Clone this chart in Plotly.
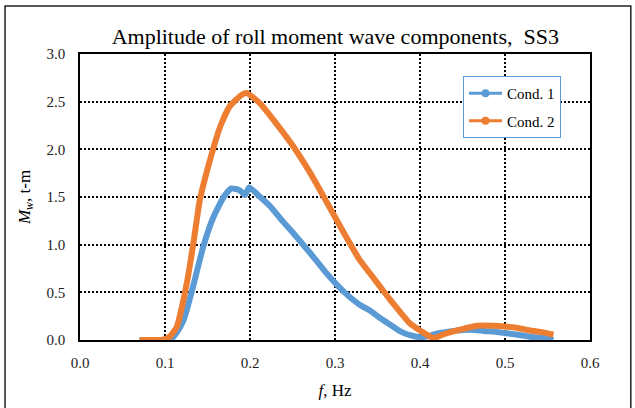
import plotly.graph_objects as go

# Cond. 1 (blue)
f1 = [0.070, 0.100, 0.106, 0.114, 0.122, 0.133, 0.145, 0.157, 0.169, 0.178, 0.188, 0.194, 0.199,
      0.212, 0.224, 0.237, 0.251, 0.271, 0.290, 0.310, 0.329, 0.341, 0.353, 0.365, 0.377, 0.388,
      0.400, 0.410, 0.420, 0.435, 0.451, 0.465, 0.475, 0.490, 0.502, 0.515, 0.529, 0.545, 0.557]
m1 = [0.00, 0.00, 0.00, 0.08, 0.21, 0.56, 0.98, 1.29, 1.50, 1.59, 1.57, 1.52, 1.60,
      1.50, 1.40, 1.26, 1.12, 0.91, 0.70, 0.51, 0.37, 0.31, 0.23, 0.16, 0.09, 0.05,
      0.03, 0.04, 0.07, 0.09, 0.105, 0.105, 0.095, 0.085, 0.07, 0.055, 0.035, 0.02, 0.00]

# Cond. 2 (orange)
f2 = [0.070, 0.095, 0.100, 0.106, 0.114, 0.120, 0.127, 0.134, 0.141, 0.153, 0.165, 0.176, 0.190, 0.196,
      0.212, 0.231, 0.251, 0.271, 0.290, 0.310, 0.329, 0.341, 0.353, 0.365, 0.377, 0.388,
      0.400, 0.416, 0.428, 0.439, 0.452, 0.467, 0.485, 0.502, 0.515, 0.529, 0.545, 0.557]
m2 = [0.00, 0.00, 0.01, 0.04, 0.14, 0.35, 0.66, 1.05, 1.47, 1.89, 2.24, 2.45, 2.57, 2.59,
      2.48, 2.27, 2.03, 1.75, 1.45, 1.13, 0.84, 0.70, 0.56, 0.42, 0.29, 0.175,
      0.10, 0.02, 0.06, 0.09, 0.12, 0.15, 0.15, 0.14, 0.125, 0.10, 0.08, 0.055]

series_names = ["Cond. 1", "Cond. 2"]
colors = ["#5B9BD5", "#ED7D31"]

x_ticks = [0.0, 0.1, 0.2, 0.3, 0.4, 0.5, 0.6]
y_ticks = [0.0, 0.5, 1.0, 1.5, 2.0, 2.5, 3.0]

FONT = "Liberation Serif"

fig = go.Figure()
for fx, my, name, col in zip([f1, f2], [m1, m2], series_names, colors):
    fig.add_trace(go.Scatter(
        x=fx, y=my, name=name, mode="lines", showlegend=False,
        line=dict(color=col, width=6, shape="spline", smoothing=0.5),
    ))
# legend entries (line with marker, as in the reference)
for name, col in zip(series_names, colors):
    fig.add_trace(go.Scatter(
        x=[None], y=[None], name=name, mode="lines+markers", legendgroup=name,
        line=dict(color=col, width=3), marker=dict(color=col, size=8),
    ))

fig.update_layout(
    width=635, height=408,
    margin=dict(l=80, r=45, t=54, b=68),
    paper_bgcolor="white", plot_bgcolor="white",
    font=dict(family=FONT, color="#222222", size=13),
    title=dict(text="Amplitude of roll moment wave components,  SS3",
               x=0.528, xanchor="center", y=0.912, yanchor="middle",
               font=dict(family=FONT, size=22, color="black")),
    showlegend=True,
    legend=dict(x=0.751, xanchor="left", y=0.923, yanchor="top",
                bordercolor="#5B9BD5", borderwidth=1, bgcolor="white",
                font=dict(family=FONT, size=15, color="black"),
                itemwidth=33, tracegroupgap=5),
    shapes=[dict(type="rect", xref="paper", yref="paper",
                 x0=-0.147, x1=1.080, y0=-0.30, y1=1.168,
                 line=dict(color="#222222", width=1.5), layer="below")],
)

fig.update_xaxes(
    range=[0, 0.6], tickvals=x_ticks, ticktext=[f"{v:.1f}" for v in x_ticks],
    showline=True, mirror=True, linecolor="black", linewidth=1.5,
    showgrid=True, gridcolor="black", gridwidth=1.5, griddash="2px,2px",
    zeroline=False, ticks="", ticklabelstandoff=8,
    tickfont=dict(family=FONT, size=15, color="#222222"),
    title=dict(text="<i>f</i>, Hz", font=dict(family=FONT, size=17, color="black"), standoff=14),
)
fig.update_yaxes(
    range=[0, 3.0], tickvals=y_ticks, ticktext=[f"{v:.1f}" for v in y_ticks],
    showline=True, mirror=True, linecolor="black", linewidth=1.5,
    showgrid=True, gridcolor="black", gridwidth=1.5, griddash="2px,2px",
    zeroline=False, ticks="", ticklabelstandoff=10,
    tickfont=dict(family=FONT, size=15, color="#222222"),
    title=dict(text="<i>M</i><sub><i>w</i></sub>, t-m", font=dict(family=FONT, size=17, color="black"), standoff=12),
)

fig.write_html("out.html", config={"displayModeBar": False},
               post_script="document.body.style.margin='0';")
